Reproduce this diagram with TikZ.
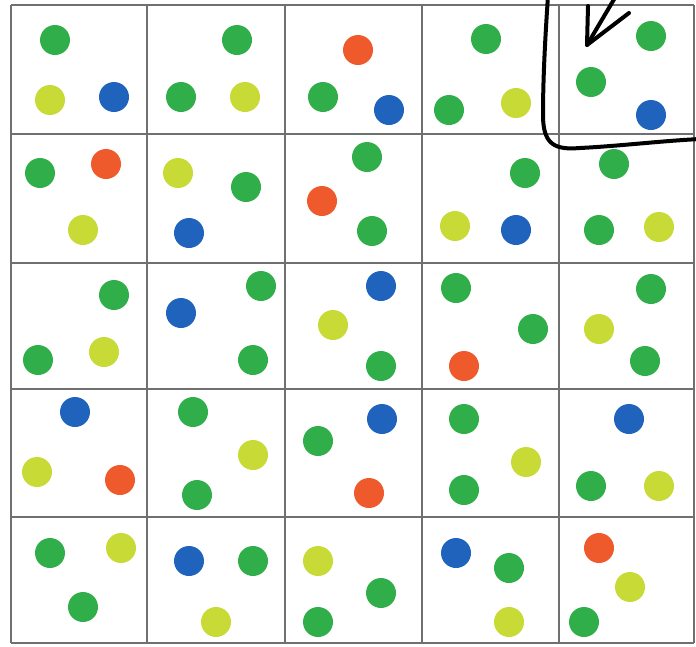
\documentclass[tikz,border=0pt]{standalone}
\usepackage{tikz}
\definecolor{dotgreen}{HTML}{2FAE4A}
\definecolor{dotyellow}{HTML}{C8DA36}
\definecolor{dotblue}{HTML}{1F63BC}
\definecolor{dotorange}{HTML}{EE5A2B}
\definecolor{gridgray}{HTML}{707070}
\tikzset{
	dot/.style={shape=circle, minimum size=30pt, inner sep=0pt},
	gridline/.style={draw=gridgray, line width=1.6pt},
	penline/.style={draw=black, line width=4pt, line cap=round, line join=round}
}

\begin{document}
\begin{tikzpicture}[x=1pt, y=-1pt]
	\useasboundingbox (0,0) rectangle (696,646);
	% Grid, dots and pen strokes:
	\foreach \gx in {11,147,285,422,559,694}
		\draw[gridline] (\gx,5) -- (\gx,643);
	\foreach \gy in {5,134,263,389,517,643}
		\draw[gridline] (11,\gy) -- (694,\gy);
	\foreach \dx/\dy/\dc [count=\i] in {
		55/40/dotgreen, 50/100/dotyellow, 114/97/dotblue,
		237/40/dotgreen, 181/97/dotgreen, 245/97/dotyellow,
		358/50/dotorange, 323/97/dotgreen, 389/110/dotblue,
		486/39/dotgreen, 449/110/dotgreen, 516/103/dotyellow,
		651/36/dotgreen, 591/82/dotgreen, 651/115/dotblue,
		40/173/dotgreen, 106/164/dotorange, 83/230/dotyellow,
		178/173/dotyellow, 246/187/dotgreen, 189/233/dotblue,
		367/157/dotgreen, 322/201/dotorange, 372/231/dotgreen,
		525/173/dotgreen, 455/226/dotyellow, 516/230/dotblue,
		614/164/dotgreen, 599/230/dotgreen, 659/227/dotyellow,
		114/295/dotgreen, 38/360/dotgreen, 104/352/dotyellow,
		261/286/dotgreen, 181/313/dotblue, 253/360/dotgreen,
		381/286/dotblue, 333/325/dotyellow, 381/366/dotgreen,
		456/288/dotgreen, 533/329/dotgreen, 464/366/dotorange,
		651/289/dotgreen, 599/329/dotyellow, 645/361/dotgreen,
		75/412/dotblue, 37/472/dotyellow, 120/480/dotorange,
		193/412/dotgreen, 253/455/dotyellow, 197/495/dotgreen,
		318/441/dotgreen, 382/419/dotblue, 369/493/dotorange,
		464/419/dotgreen, 526/462/dotyellow, 464/490/dotgreen,
		629/419/dotblue, 591/486/dotgreen, 659/486/dotyellow,
		50/553/dotgreen, 121/548/dotyellow, 83/607/dotgreen,
		189/561/dotblue, 253/561/dotgreen, 216/622/dotyellow,
		318/561/dotyellow, 381/593/dotgreen, 318/622/dotgreen,
		456/553/dotblue, 509/568/dotgreen, 509/622/dotyellow,
		599/548/dotorange, 630/587/dotyellow, 584/622/dotgreen}
		\node[dot, fill=\dc] (d\i) at (\dx,\dy){};
	\coordinate (tail) at (616,-4);
	\coordinate (tip) at (587,45);
	\draw[penline] (548,-4) .. controls (545,40) and (543,80) .. (543,115) .. controls (543,145) and (555,150) .. (580,148) .. controls (620,146) and (660,141) .. (700,139);
	\draw[penline] (tail) -- (tip);
	\draw[penline] (588,6) -- (tip) -- (629,13);
\end{tikzpicture}
\end{document}
